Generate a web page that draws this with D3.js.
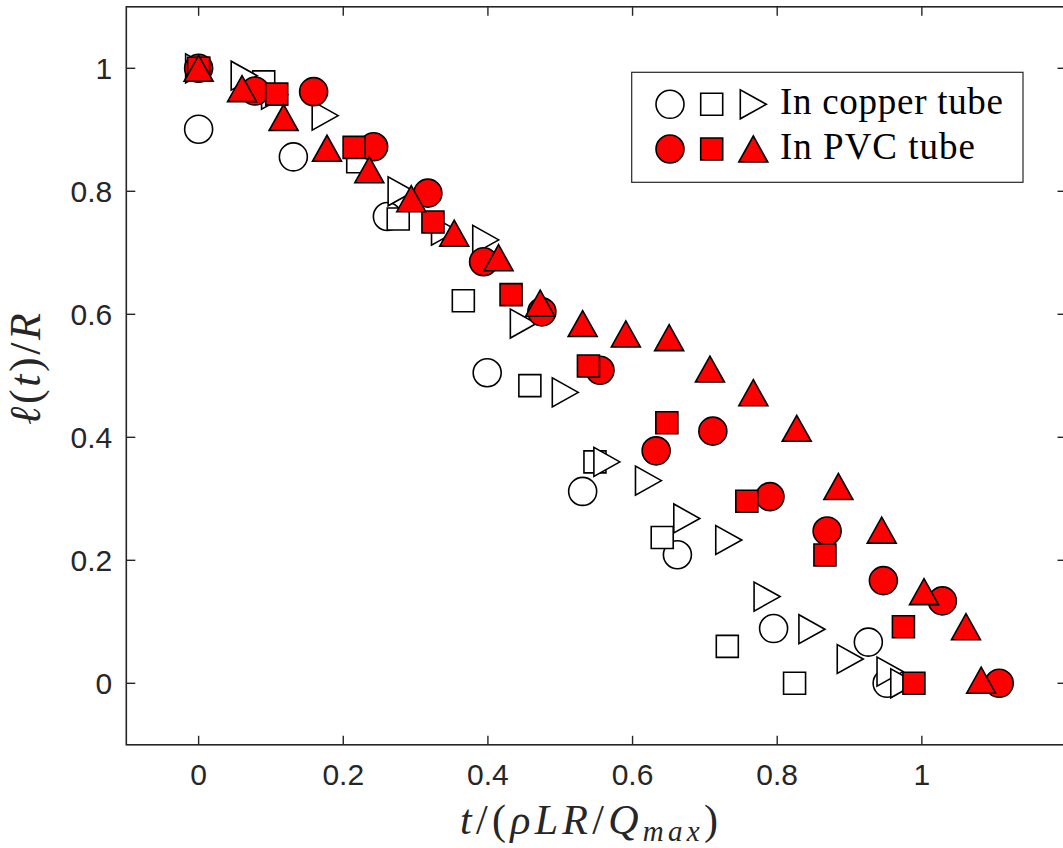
<!DOCTYPE html>
<html>
<head>
<meta charset="utf-8">
<script src="https://cdn.jsdelivr.net/npm/d3@7"></script>
<style>
  html, body { margin: 0; padding: 0; background: #fff; }
  svg { display: block; }
</style>
</head>
<body>
<svg id="chart" width="1063" height="848"></svg>
<script>
// ---------- data ----------
const copperCircleX = [0, 0.131, 0.261, 0.399, 0.531, 0.662, 0.795, 0.926, 0.952];
const copperCircleY = [0.901, 0.856, 0.759, 0.505, 0.312, 0.209, 0.089, 0.067, 0];

const copperSquareX = [0, 0.090, 0.220, 0.276, 0.366, 0.458, 0.548, 0.641, 0.731, 0.824];
const copperSquareY = [1, 0.978, 0.848, 0.755, 0.622, 0.484, 0.360, 0.237, 0.060, 0];

const copperTriX = [0, 0.063, 0.105, 0.175, 0.280, 0.340, 0.397, 0.449, 0.507, 0.5645, 0.622, 0.675, 0.733, 0.786, 0.848, 0.901, 0.956, 0.975];
const copperTriY = [1, 0.988, 0.957, 0.923, 0.800, 0.736, 0.721, 0.585, 0.473, 0.360, 0.3295, 0.268, 0.233, 0.141, 0.088, 0.0395, 0.019, 0];

const pvcCircleX = [0, 0.078, 0.159, 0.242, 0.317, 0.394, 0.4746, 0.555, 0.6326, 0.711, 0.790, 0.869, 0.9468, 1.0284, 1.107];
const pvcCircleY = [1, 0.963, 0.962, 0.8725, 0.797, 0.6855, 0.604, 0.509, 0.378, 0.410, 0.3035, 0.2476, 0.167, 0.134, 0];

const pvcSquareX = [0, 0.108, 0.215, 0.324, 0.432, 0.539, 0.6474, 0.758, 0.866, 0.9745, 0.989];
const pvcSquareY = [1, 0.958, 0.8715, 0.750, 0.632, 0.516, 0.4237, 0.296, 0.2086, 0.092, 0];

const pvcTriX = [0, 0.060, 0.1175, 0.1775, 0.236, 0.294, 0.3534, 0.4147, 0.4723, 0.531, 0.5907, 0.6506, 0.707, 0.767, 0.827, 0.8846, 0.9445, 1.003, 1.061, 1.082];
const pvcTriY = [1, 0.967, 0.920, 0.870, 0.835, 0.788, 0.732, 0.692, 0.618, 0.585, 0.568, 0.562, 0.511, 0.4725, 0.4146, 0.320, 0.249, 0.149, 0.092, 0.005];

const xTicks = [0, 0.2, 0.4, 0.6, 0.8, 1];
const yTicks = [0, 0.2, 0.4, 0.6, 0.8, 1];
const legendLabels = ["In copper tube", "In PVC tube"];

// ---------- layout ----------
(function () {
const svg = d3.select("#chart");
const pLeft = 126.3, pRight = 1066.5, pTop = 6.8, pBottom = 744.8;
const x = d3.scaleLinear().domain([-0.1, 1.2]).range([pLeft, pRight]);
const y = d3.scaleLinear().domain([-0.1, 1.1]).range([pBottom, pTop]);
const axisColor = "#262626";
const tickLen = 9;

// axes box
const ax = svg.append("g");
ax.append("rect").attr("x", pLeft).attr("y", pTop)
  .attr("width", pRight - pLeft).attr("height", pBottom - pTop)
  .attr("fill", "none").attr("stroke", axisColor).attr("stroke-width", 1.6);

// x ticks (bottom + top, inward)
xTicks.forEach(t => {
  ax.append("line").attr("x1", x(t)).attr("x2", x(t)).attr("y1", pBottom).attr("y2", pBottom - tickLen)
    .attr("stroke", axisColor).attr("stroke-width", 1.4);
  ax.append("line").attr("x1", x(t)).attr("x2", x(t)).attr("y1", pTop).attr("y2", pTop + tickLen)
    .attr("stroke", axisColor).attr("stroke-width", 1.4);
  ax.append("text").attr("x", x(t)).attr("y", pBottom + 40)
    .attr("text-anchor", "middle")
    .attr("font-family", "Liberation Sans, Arial, sans-serif")
    .attr("font-size", 30).attr("fill", axisColor)
    .text(d3.format("~g")(t));
});
// y ticks (left + right, inward)
yTicks.forEach(t => {
  ax.append("line").attr("x1", pLeft).attr("x2", pLeft + tickLen).attr("y1", y(t)).attr("y2", y(t))
    .attr("stroke", axisColor).attr("stroke-width", 1.4);
  ax.append("line").attr("x1", pRight).attr("x2", pRight - tickLen).attr("y1", y(t)).attr("y2", y(t))
    .attr("stroke", axisColor).attr("stroke-width", 1.4);
  ax.append("text").attr("x", pLeft - 14).attr("y", y(t) + 11)
    .attr("text-anchor", "end")
    .attr("font-family", "Liberation Sans, Arial, sans-serif")
    .attr("font-size", 30).attr("fill", axisColor)
    .text(d3.format("~g")(t));
});

// axis labels
const xl = svg.append("text").attr("x", 460).attr("y", 834)
  .attr("text-anchor", "start")
  .attr("font-family", "Liberation Serif, Times New Roman, serif")
  .attr("font-size", 42).attr("fill", axisColor).attr("font-style", "italic")
  .attr("textLength", 258).attr("lengthAdjust", "spacing");
xl.append("tspan").text("t");
xl.append("tspan").attr("font-style", "normal").text("/(");
xl.append("tspan").text("ρLR");
xl.append("tspan").attr("font-style", "normal").text("/");
xl.append("tspan").text("Q");
xl.append("tspan").attr("font-size", 29).attr("dy", 7).text("max");
xl.append("tspan").attr("font-style", "normal").attr("dy", -7).text(")");

const yl = svg.append("text")
  .attr("transform", "translate(40,425) rotate(-90)")
  .attr("text-anchor", "start")
  .attr("font-family", "Liberation Serif, Times New Roman, serif")
  .attr("font-size", 44).attr("fill", axisColor).attr("font-style", "italic")
  .attr("textLength", 112).attr("lengthAdjust", "spacing");
yl.append("tspan").text("ℓ");
yl.append("tspan").attr("font-style", "normal").text("(");
yl.append("tspan").text("t");
yl.append("tspan").attr("font-style", "normal").text(")/");
yl.append("tspan").text("R");

// ---------- marker shapes ----------
const circleR = 14;
const squareS = 22;
const triW = 29, triH = 26;
const shapeCircle = { draw(ctx) { ctx.moveTo(circleR, 0); ctx.arc(0, 0, circleR, 0, 2 * Math.PI); ctx.closePath(); } };
const shapeSquare = { draw(ctx) { const h = squareS / 2; ctx.moveTo(-h, -h); ctx.lineTo(h, -h); ctx.lineTo(h, h); ctx.lineTo(-h, h); ctx.closePath(); } };
const shapeUp = { draw(ctx) { ctx.moveTo(0, -triH / 2); ctx.lineTo(triW / 2, triH / 2); ctx.lineTo(-triW / 2, triH / 2); ctx.closePath(); } };
const shapeRight = { draw(ctx) { ctx.moveTo(triH / 2, 0); ctx.lineTo(-triH / 2, triW / 2); ctx.lineTo(-triH / 2, -triW / 2); ctx.closePath(); } };

const series = [
  { xs: copperCircleX, ys: copperCircleY, shape: shapeCircle, fill: "#ffffff" },
  { xs: copperSquareX, ys: copperSquareY, shape: shapeSquare, fill: "#ffffff" },
  { xs: copperTriX, ys: copperTriY, shape: shapeRight, fill: "#ffffff" },
  { xs: pvcCircleX, ys: pvcCircleY, shape: shapeCircle, fill: "#ff0000" },
  { xs: pvcSquareX, ys: pvcSquareY, shape: shapeSquare, fill: "#ff0000" },
  { xs: pvcTriX, ys: pvcTriY, shape: shapeUp, fill: "#ff0000" }
];

const plot = svg.append("g");
series.forEach(s => {
  const pts = s.xs.map((v, i) => [v, s.ys[i]]);
  plot.append("g").selectAll("path").data(pts).join("path")
    .attr("transform", d => `translate(${x(d[0])},${y(d[1])})`)
    .attr("d", d3.symbol().type(s.shape)())
    .attr("fill", s.fill).attr("stroke", "#000").attr("stroke-width", 1.6);
});

// ---------- legend ----------
const lg = svg.append("g");
lg.append("rect").attr("x", 631.7).attr("y", 72.3).attr("width", 391.3).attr("height", 110)
  .attr("fill", "#fff").attr("stroke", axisColor).attr("stroke-width", 1.2);
const legendRows = [
  { shapes: [shapeCircle, shapeSquare, shapeRight], fill: "#ffffff", label: legendLabels[0], cy: 104.3, len: 223 },
  { shapes: [shapeCircle, shapeSquare, shapeUp], fill: "#ff0000", label: legendLabels[1], cy: 149, len: 195 }
];
const legendX = [670, 711.7, 753.3];
legendRows.forEach(r => {
  r.shapes.forEach((sh, i) => {
    lg.append("path").attr("transform", `translate(${legendX[i]},${r.cy})`)
      .attr("d", d3.symbol().type(sh)())
      .attr("fill", r.fill).attr("stroke", "#000").attr("stroke-width", 1.6);
  });
  lg.append("text").attr("x", 780).attr("y", r.cy + 10)
    .attr("font-family", "Liberation Serif, Times New Roman, serif")
    .attr("font-size", 37).attr("fill", "#000")
    .attr("textLength", r.len).attr("lengthAdjust", "spacing")
    .text(r.label);
});
})();
</script>
</body>
</html>
